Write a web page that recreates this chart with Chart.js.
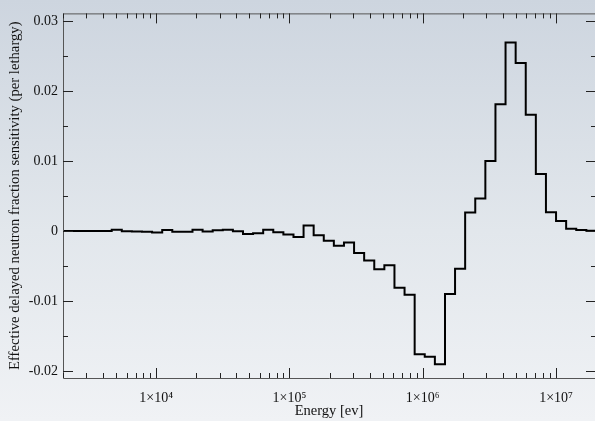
<!DOCTYPE html>
<html>
<head>
<meta charset="utf-8">
<script src="https://cdn.jsdelivr.net/npm/chart.js@4.4.1/dist/chart.umd.min.js"></script>
<style>
  html, body { margin: 0; padding: 0; width: 595px; height: 421px; overflow: hidden;
    background: linear-gradient(to bottom, #cdd5df 0%, #e2e7ec 55%, #f0f2f5 100%); }
  canvas { display: block; }
</style>
</head>
<body>
<canvas id="c" width="595" height="421"></canvas>
<script>
// Energy group boundaries (eV), ascending
const binEdges = [1939, 2308, 2748, 3272, 3896, 4638, 5522, 6575, 7828, 9320,
  11100, 13210, 15730, 18730, 22300, 26550, 31610, 37630, 44800, 53340,
  63510, 75610, 90030, 107200, 127600, 151900, 180900, 215300, 256400, 305300,
  363400, 432700, 515200, 613400, 730300, 869500, 1035000, 1233000, 1468000, 1747000,
  2080000, 2477000, 2949000, 3511000, 4180000, 4977000, 5925000, 7054000, 8399000, 10000000,
  11906000, 14175000, 16880000, 20000000];

// Sensitivity per lethargy for each group (one value per bin)
const sensitivity = [0.00002, 0.00002, 0.00001, 0.00002, 0.00002, 0.0002, -0.00003, -0.00005, -0.0001, -0.00022,
  0.00015, -0.0001, -0.0001, 0.00018, -0.00008, 0.00012, 0.00018, -0.00003, -0.00044, -0.00032,
  0.00018, -0.00017, -0.0005, -0.00084, 0.00078, -0.0006, -0.0014, -0.0021, -0.00164, -0.00313,
  -0.0042, -0.00545, -0.0049, -0.0081, -0.0091, -0.01758, -0.01796, -0.0190, -0.0090, -0.00537,
  0.00266, 0.00466, 0.0100, 0.0181, 0.0269, 0.0240, 0.0166, 0.00815, 0.0027, 0.00144,
  0.00032, 0.00014, 0.00005];

// Tick values and labels
const xMajorTicks = [1e4, 1e5, 1e6, 1e7];
const xTickLabels = ['1×10⁴', '1×10⁵', '1×10⁶', '1×10⁷'];
const yMajorTicks = [-0.02, -0.01, 0, 0.01, 0.02, 0.03];
const yTickLabels = ['-0.02', '-0.01', '0', '0.01', '0.02', '0.03'];
const yMinorTicks = [-0.015, -0.005, 0.005, 0.015, 0.025];

const xAllTicks = [];
for (let e = 3; e <= 7; e++) {
  for (let m = 1; m <= 9; m++) {
    const v = m * Math.pow(10, e);
    if (v >= 2000 && v <= 1.96e7) xAllTicks.push(v);
  }
}
const yAllTicks = yMajorTicks.concat(yMinorTicks).sort((a, b) => a - b);

const points = [];
sensitivity.forEach((v, i) => {
  points.push({ x: binEdges[i], y: v });
  points.push({ x: binEdges[i + 1], y: v });
});

const FONT = '"Liberation Serif", "Times New Roman", serif';

function isMajorX(v) { return xMajorTicks.some(m => Math.abs(m - v) / m < 1e-9); }
function isMajorY(v) { return yMajorTicks.some(m => Math.abs(m - v) < 1e-9); }

const framePlugin = {
  id: 'frame',
  afterDraw(chart) {
    const { ctx, chartArea: a, scales: { x, y } } = chart;
    ctx.save();
    ctx.lineWidth = 1;
    ctx.strokeStyle = '#555';
    ctx.beginPath();
    ctx.moveTo(a.right + 2, a.top + 0.5);
    ctx.lineTo(a.left + 0.5, a.top + 0.5);
    ctx.lineTo(a.left + 0.5, a.bottom + 0.5);
    ctx.lineTo(a.right + 2, a.bottom + 0.5);
    ctx.stroke();
    ctx.strokeStyle = '#222';
    ctx.beginPath();
    x.ticks.forEach(t => {
      const px = Math.round(x.getPixelForValue(t.value)) + 0.5;
      const len = isMajorX(t.value) ? 10 : 5;
      ctx.moveTo(px, a.bottom); ctx.lineTo(px, a.bottom - len);
      ctx.moveTo(px, a.top); ctx.lineTo(px, a.top + len);
    });
    y.ticks.forEach(t => {
      const py = Math.round(y.getPixelForValue(t.value)) + 0.5;
      const len = isMajorY(t.value) ? 10 : 5;
      ctx.moveTo(a.left, py); ctx.lineTo(a.left + len, py);
      ctx.moveTo(a.right + 1, py); ctx.lineTo(a.right + 1 - len, py);
    });
    ctx.stroke();
    ctx.restore();
  }
};

new Chart(document.getElementById('c'), {
  type: 'line',
  data: {
    datasets: [{
      data: points,
      borderColor: '#000',
      borderWidth: 2,
      pointRadius: 0,
      fill: false,
      tension: 0,
      borderJoinStyle: 'miter',
      borderCapStyle: 'butt'
    }]
  },
  options: {
    responsive: false,
    animation: false,
    events: [],
    layout: { padding: { top: 5, right: 0, left: 0, bottom: 0 } },
    plugins: { legend: { display: false }, tooltip: { enabled: false } },
    scales: {
      x: {
        type: 'logarithmic',
        min: 2000,
        max: 1.96e7,
        afterBuildTicks: s => { s.ticks = xAllTicks.map(v => ({ value: v })); },
        afterFit: s => { s.height = 43; },
        grid: { display: false, drawTicks: false },
        border: { display: false },
        ticks: {
          autoSkip: false, maxRotation: 0, minRotation: 0,
          padding: 12,
          color: '#111',
          font: { family: FONT, size: 14 },
          callback: v => { const i = xMajorTicks.findIndex(m => Math.abs(m - v) / m < 1e-9); return i >= 0 ? xTickLabels[i] : ''; }
        },
        title: {
          display: true, text: 'Energy [ev]', color: '#111',
          font: { family: FONT, size: 14.5, lineHeight: 1.2 },
          padding: { top: 0, bottom: 1 }
        }
      },
      y: {
        type: 'linear',
        min: -0.02098,
        max: 0.03107,
        afterBuildTicks: s => { s.ticks = yAllTicks.map(v => ({ value: v })); },
        afterFit: s => { s.width = 63; },
        grid: { display: false, drawTicks: false },
        border: { display: false },
        ticks: {
          autoSkip: false,
          padding: 5,
          color: '#111',
          font: { family: FONT, size: 14 },
          callback: v => { const i = yMajorTicks.findIndex(m => Math.abs(m - v) < 1e-9); return i >= 0 ? yTickLabels[i] : ''; }
        },
        title: {
          display: true, text: 'Effective delayed neutron fraction sensitivity (per lethargy)', color: '#111',
          font: { family: FONT, size: 14.7, lineHeight: 1.2 },
          padding: { top: 6, bottom: 0 }
        }
      }
    }
  },
  plugins: [framePlugin]
});
</script>
</body>
</html>
